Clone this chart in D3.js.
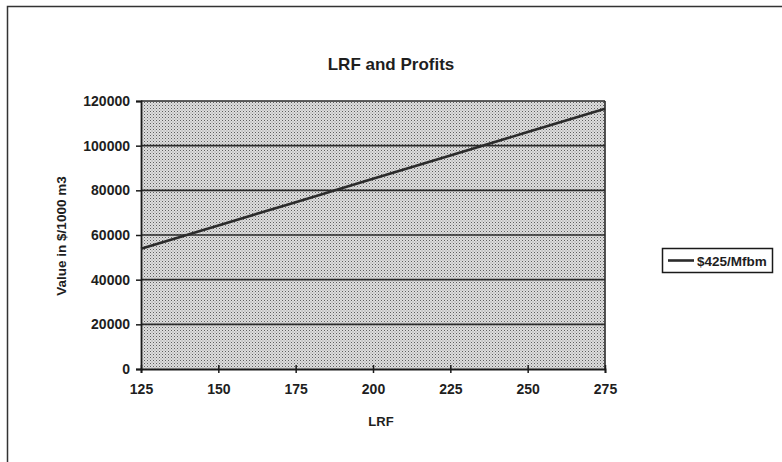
<!DOCTYPE html>
<html>
<head>
<meta charset="utf-8">
<script src="https://cdn.jsdelivr.net/npm/d3@7"></script>
<style>
  html, body { margin: 0; padding: 0; background: #fff; }
  svg { display: block; }
  text { font-family: "Liberation Sans", Arial, sans-serif; font-weight: bold; fill: #1e1e1e; }
</style>
</head>
<body>
<svg id="chart" width="782" height="462"></svg>
<script>
// LRF values (x) and profit per 1000 m3 at $425/Mfbm (y)
const lrf = [125, 150, 175, 200, 225, 250, 275];
const profit425 = [53800, 64300, 74700, 85200, 95600, 106100, 116500];
const xTicks = [125, 150, 175, 200, 225, 250, 275];
const yTicks = [0, 20000, 40000, 60000, 80000, 100000, 120000];
const seriesName = "$425/Mfbm";
const chartTitle = "LRF and Profits";
const xTitle = "LRF";
const yTitle = "Value in $/1000 m3";

const svg = d3.select("#chart");
const plot = { left: 141, right: 605, top: 101, bottom: 369 };

const x = d3.scaleLinear().domain([125, 275]).range([plot.left, plot.right]);
const y = d3.scaleLinear().domain([0, 120000]).range([plot.bottom, plot.top]);

// Halftone-style fill for the plot area
const defs = svg.append("defs");
const pat = defs.append("pattern")
  .attr("id", "dots").attr("patternUnits", "userSpaceOnUse")
  .attr("width", 3).attr("height", 3);
pat.append("rect").attr("width", 3).attr("height", 3).attr("fill", "#dedede");
pat.append("rect").attr("x", 0).attr("y", 0).attr("width", 1).attr("height", 1).attr("fill", "#5e5e5e");
pat.append("rect").attr("x", 1.5).attr("y", 1.5).attr("width", 1).attr("height", 1).attr("fill", "#8e8e8e");

// Outer chart frame
svg.append("rect")
  .attr("x", 7.5).attr("y", 6.5).attr("width", 800).attr("height", 480)
  .attr("fill", "none").attr("stroke", "#333").attr("stroke-width", 1.5);

// Plot background
svg.append("rect")
  .attr("x", plot.left).attr("y", plot.top)
  .attr("width", plot.right - plot.left).attr("height", plot.bottom - plot.top)
  .attr("fill", "url(#dots)");

// Horizontal gridlines
svg.append("g").selectAll("line")
  .data(yTicks.filter(d => d > 0))
  .join("line")
  .attr("x1", plot.left).attr("x2", plot.right)
  .attr("y1", d => y(d)).attr("y2", d => y(d))
  .attr("stroke", "#2a2a2a").attr("stroke-width", 1.6);

// Right border of plot area
svg.append("line")
  .attr("x1", plot.right).attr("x2", plot.right)
  .attr("y1", plot.top).attr("y2", plot.bottom)
  .attr("stroke", "#2a2a2a").attr("stroke-width", 1.6);

// Y axis
const yAxis = svg.append("g")
  .attr("transform", `translate(${plot.left},0)`)
  .call(d3.axisLeft(y).tickValues(yTicks).tickFormat(d3.format("d")).tickSize(5).tickPadding(6));
yAxis.select(".domain").attr("stroke", "#1a1a1a").attr("stroke-width", 1.8);
yAxis.selectAll(".tick line").attr("stroke", "#1a1a1a").attr("stroke-width", 1.5);
yAxis.selectAll("text").style("font-size", "14px").attr("fill", "#1e1e1e");

// X axis with crossing tick marks
const xAxis = svg.append("g")
  .attr("transform", `translate(0,${plot.bottom})`)
  .call(d3.axisBottom(x).tickValues(xTicks).tickSize(4).tickPadding(11));
xAxis.select(".domain").attr("stroke", "#1a1a1a").attr("stroke-width", 1.8);
xAxis.selectAll(".tick line").attr("y1", -4).attr("stroke", "#1a1a1a").attr("stroke-width", 1.5);
xAxis.selectAll("text").style("font-size", "14px").attr("fill", "#1e1e1e");

// Series line
const line = d3.line().x((d, i) => x(lrf[i])).y(d => y(d));
svg.append("path")
  .datum(profit425)
  .attr("d", line)
  .attr("fill", "none")
  .attr("stroke", "#2b2b2b")
  .attr("stroke-width", 2.6);

// Titles
svg.append("text")
  .attr("x", 391).attr("y", 70)
  .attr("text-anchor", "middle")
  .style("font-size", "17px")
  .text(chartTitle);

svg.append("text")
  .attr("x", 381).attr("y", 426)
  .attr("text-anchor", "middle")
  .style("font-size", "13px")
  .text(xTitle);

svg.append("text")
  .attr("transform", "translate(66,236) rotate(-90)")
  .attr("text-anchor", "middle")
  .style("font-size", "13.5px")
  .text(yTitle);

// Legend
const legend = svg.append("g").attr("transform", "translate(662,248)");
legend.append("rect")
  .attr("x", 0.5).attr("y", 0.5).attr("width", 110).attr("height", 24)
  .attr("fill", "#fff").attr("stroke", "#1a1a1a").attr("stroke-width", 1.5);
legend.append("line")
  .attr("x1", 6).attr("x2", 32).attr("y1", 12.5).attr("y2", 12.5)
  .attr("stroke", "#2b2b2b").attr("stroke-width", 2.6);
legend.append("text")
  .attr("x", 35).attr("y", 17.5)
  .style("font-size", "13.5px")
  .text(seriesName);
</script>
</body>
</html>
